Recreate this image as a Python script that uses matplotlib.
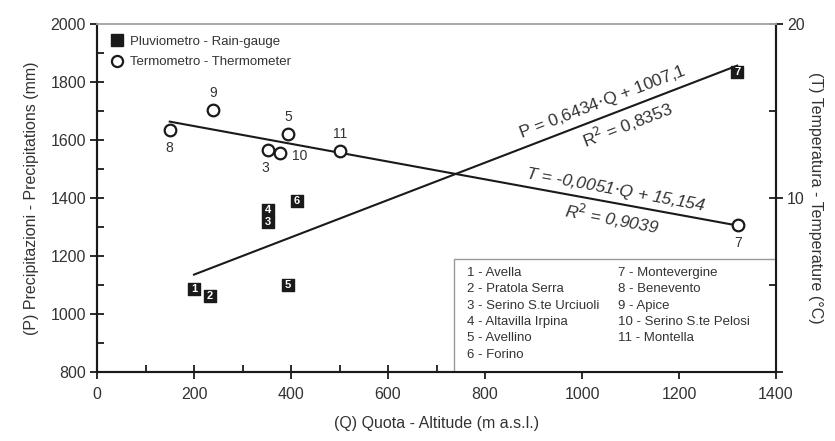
import numpy as np
import matplotlib
matplotlib.use('Agg')
import matplotlib.pyplot as plt
from matplotlib.lines import Line2D
from matplotlib.patches import Rectangle
from matplotlib.ticker import MultipleLocator

plt.rcParams['font.family'] = ['Liberation Sans', 'DejaVu Sans']

# rain gauges: id, altitude (m a.s.l.), precipitation (mm)
rain_ids = ['1', '2', '3', '4', '5', '6', '7']
rain_q = [200, 233, 353, 353, 394, 412, 1320]
rain_p = [1086, 1062, 1317, 1359, 1100, 1390, 1836]

# thermometers: id, altitude, temperature (deg C)
therm_ids = ['8', '9', '3', '10', '5', '11', '7']
therm_q = [150, 240, 352, 377, 394, 501, 1322]
therm_t = [13.9, 15.05, 12.75, 12.6, 13.7, 12.7, 8.45]

# regression coefficients (slope, intercept)
p_fit = (0.6434, 1007.1)
t_fit = (-0.0051, 15.154)

stations = ['1 - Avella', '2 - Pratola Serra', '3 - Serino S.te Urciuoli',
            '4 - Altavilla Irpina', '5 - Avellino', '6 - Forino',
            '7 - Montevergine', '8 - Benevento', '9 - Apice',
            '10 - Serino S.te Pelosi', '11 - Montella']

txt = '#333333'
fig = plt.figure(figsize=(8.35, 4.41), dpi=100)
fig.subplots_adjust(left=97/835, right=776/835, top=1-24/441, bottom=1-372/441)
ax = fig.add_subplot(111)
ax2 = ax.twinx()

ax.set_xlim(0, 1400)
ax.set_ylim(800, 2000)
ax2.set_ylim(0, 20)

# trend lines
q = np.array([min(rain_q), max(rain_q)])
ax.plot(q, p_fit[0]*q + p_fit[1], color='#1a1a1a', lw=1.5, zorder=2)
q2 = np.array([min(therm_q), max(therm_q)])
ax2.plot(q2, t_fit[0]*q2 + t_fit[1], color='#1a1a1a', lw=1.5, zorder=2)

# rain gauge squares with numbers
ax.scatter(rain_q, rain_p, marker='s', s=80, color='#1a1a1a', zorder=4)
for i, qq, pp in zip(rain_ids, rain_q, rain_p):
    ax.text(qq, pp, i, color='white', fontsize=8, ha='center', va='center',
            fontweight='bold', zorder=5)

# thermometer circles
ax2.scatter(therm_q, therm_t, marker='o', s=70, facecolor='white',
            edgecolor='#1a1a1a', linewidths=1.6, zorder=4)
offs = {'8': (0, -13), '9': (0, 12), '3': (-2, -13), '10': (14, -2),
        '5': (0, 12), '11': (0, 12), '7': (0, -13)}
for i, qq, tt in zip(therm_ids, therm_q, therm_t):
    dx, dy = offs[i]
    ax2.annotate(i, (qq, tt), xytext=(dx, dy), textcoords='offset points',
                 ha='center', va='center', fontsize=10, color=txt)

# equations
ang_p = np.degrees(np.arctan(p_fit[0]))
ang_t = np.degrees(np.arctan(t_fit[0]))
ax.text(1050, p_fit[0]*1050 + p_fit[1] + 16, 'P = 0,6434$\\cdot$Q + 1007,1',
        rotation=ang_p, transform_rotates_text=True, rotation_mode='anchor',
        ha='center', va='bottom', fontsize=12.5, color=txt)
ax.text(1085, p_fit[0]*1085 + p_fit[1] - 16, 'R$^2$ = 0,8353',
        rotation=ang_p, transform_rotates_text=True, rotation_mode='anchor',
        ha='center', va='top', fontsize=12.5, color=txt)
ax2.text(1065, t_fit[0]*1065 + t_fit[1] + 0.22, 'T = -0,0051$\\cdot$Q + 15,154',
         rotation=ang_t, transform_rotates_text=True, rotation_mode='anchor',
         ha='center', va='bottom', fontsize=12.5, color=txt, style='italic')
ax2.text(1065, t_fit[0]*1065 + t_fit[1] - 0.28, 'R$^2$ = 0,9039',
         rotation=ang_t, transform_rotates_text=True, rotation_mode='anchor',
         ha='center', va='top', fontsize=12.5, color=txt, style='italic')

# legend
handles = [Line2D([], [], marker='s', ls='none', color='#1a1a1a', markersize=8),
           Line2D([], [], marker='o', ls='none', markerfacecolor='white',
                  markeredgecolor='#1a1a1a', markeredgewidth=1.6, markersize=8)]
leg = ax.legend(handles, ['Pluviometro - Rain-gauge', 'Termometro - Thermometer'],
                loc='upper left', frameon=False, fontsize=9.5, handletextpad=0.4,
                borderaxespad=0.5, labelspacing=0.6, handlelength=1.2,
                bbox_to_anchor=(0.0, 1.0))
for t in leg.get_texts():
    t.set_color(txt)

# station box
ax.add_patch(Rectangle((0.526, 0.0), 0.474, 0.325, transform=ax.transAxes,
                       facecolor='white', edgecolor='#999999', lw=1, zorder=3))
for k, name in enumerate(stations):
    col = 0 if k < 6 else 1
    row = k if k < 6 else k - 6
    ax.text(0.545 + col*0.222, 0.285 - row*0.047, name, transform=ax.transAxes,
            fontsize=9.5, color=txt, va='center', ha='left', zorder=4)

# axes styling
ax.xaxis.set_major_locator(MultipleLocator(200))
ax.xaxis.set_minor_locator(MultipleLocator(100))
ax.yaxis.set_major_locator(MultipleLocator(200))
ax.yaxis.set_minor_locator(MultipleLocator(100))
ax2.set_yticks([0, 10, 20], ['', '10', '20'])
ax2.yaxis.set_minor_locator(MultipleLocator(5))
for a in (ax, ax2):
    a.tick_params(which='major', direction='inout', length=10, width=1.3,
                  labelsize=11.5, labelcolor=txt, color='#1a1a1a')
    a.tick_params(which='minor', direction='in', length=5, width=1.3,
                  color='#1a1a1a')
ax.tick_params(axis='x', pad=6)
ax.tick_params(axis='y', pad=3)
ax2.tick_params(axis='y', pad=3)
for a in (ax, ax2):
    for s in ('left', 'right', 'bottom'):
        a.spines[s].set_linewidth(1.5)
        a.spines[s].set_color('#1a1a1a')
    a.spines['top'].set_color('#aaaaaa')
    a.spines['top'].set_linewidth(1.3)

ax.set_xlabel('(Q) Quota - Altitude (m a.s.l.)', fontsize=11.5, color=txt, labelpad=10)
ax.set_ylabel('(P) Precipitazioni - Precipitations (mm)', fontsize=11.5, color=txt, labelpad=8)
ax2.set_ylabel('(T) Temperatura - Temperature (°C)', fontsize=11.5, color=txt,
               rotation=270, labelpad=13)

fig.savefig('out.png', dpi=100)
